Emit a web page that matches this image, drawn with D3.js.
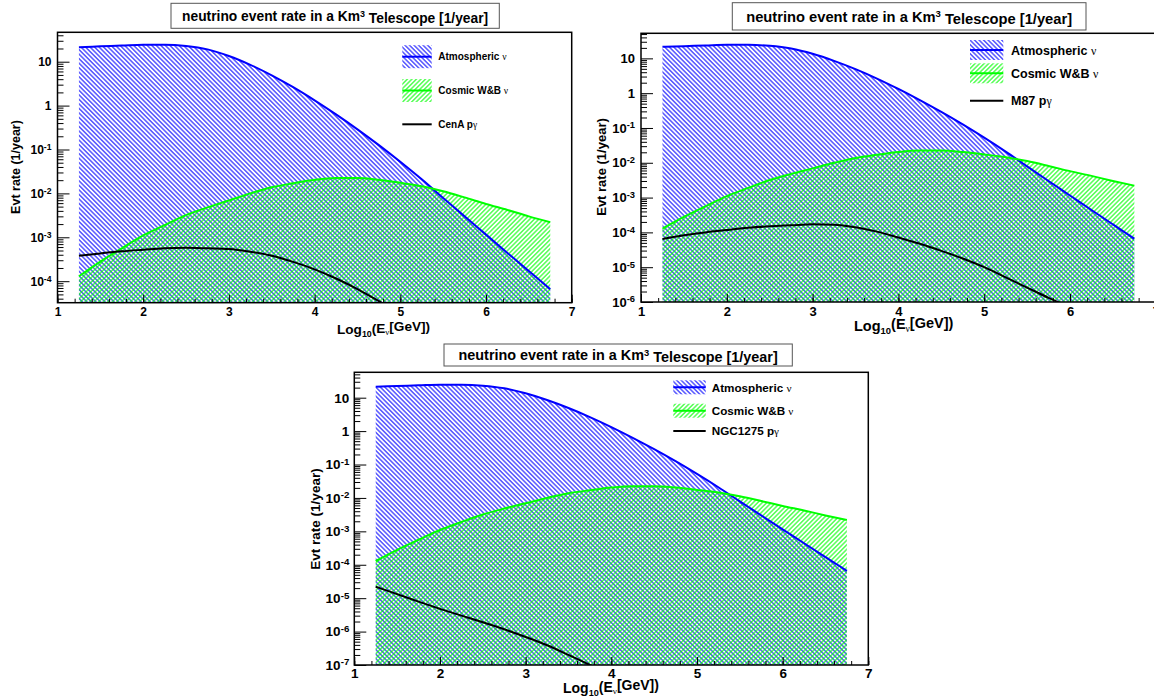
<!DOCTYPE html>
<html><head><meta charset="utf-8">
<script src="https://cdn.jsdelivr.net/npm/d3@7"></script>
<style>
html,body{margin:0;padding:0;background:#fff;}
svg{display:block;}
text{font-family:"Liberation Sans",Arial,Helvetica,sans-serif;font-weight:bold;fill:#000;}
.sym{font-family:"Liberation Serif","DejaVu Serif",serif;font-weight:normal;}
</style>
</head><body>
<svg id="chart" width="1154" height="699"></svg>
<script>
// ---------------- data ----------------
const energies = [1.25,1.5,1.75,2.0,2.25,2.5,2.75,3.0,3.25,3.5,3.75,4.0,4.25,4.5,4.75,5.0,5.25,5.5,5.75,6.0,6.25,6.5,6.75];
const atmospheric = [21.4,22.4,23.4,24.5,24.5,22.9,19.1,13.5,8.5,4.9,2.63,1.32,0.63,0.288,0.126,0.0525,0.0209,7.9e-3,3.0e-3,1.15e-3,4.4e-4,1.7e-4,6.6e-5];
const cosmicWB = [1.29e-4,2.8e-4,5.6e-4,1.1e-3,1.9e-3,3.2e-3,4.8e-3,6.9e-3,1.0e-2,1.38e-2,1.7e-2,2.04e-2,2.24e-2,2.24e-2,2.04e-2,1.74e-2,1.45e-2,1.12e-2,8.1e-3,5.75e-3,4.2e-3,3.0e-3,2.2e-3];
const cenA = [3.8e-4,4.3e-4,4.8e-4,5.2e-4,5.6e-4,5.75e-4,5.6e-4,5.4e-4,4.7e-4,3.8e-4,2.75e-4,1.86e-4,1.15e-4,6.6e-5,3.5e-5,1.8e-5,8.5e-6];
const m87 = [6.5e-5,8.3e-5,1.0e-4,1.17e-4,1.35e-4,1.5e-4,1.6e-4,1.7e-4,1.66e-4,1.4e-4,1.05e-4,7.1e-5,4.7e-5,2.95e-5,1.78e-5,1.0e-5,5.1e-6,2.6e-6,1.32e-6,7.1e-7,4.0e-7];
const ngc1275 = [2.2e-5,1.32e-5,7.9e-6,4.8e-6,3.0e-6,1.9e-6,1.17e-6,6.9e-7,3.9e-7,2.0e-7,1.0e-7,4.7e-8];
const xTickValues = [1,2,3,4,5,6,7];
const sourceNames = ["CenA","M87","NGC1275"];
const sourceSeries = [cenA, m87, ngc1275];
const yDecadesMin = [-4,-6,-7];
const yDecadesMax = 1;
const yRangeLog = [[-4.49,1.67],[-6,1.72],[-7,1.76]];

// ---------------- layout ----------------
const panels = [
 {x0:57.5,x1:571.7,y0:32.3,y1:302.7,tickFs:12,labGap:6,maj:12,min:6,xpad:4.8,
  tb:[171,3.3,499.3,28.3],tfs:13.8,tbase:21,
  yt:{x:15,y:167,fs:12.5}, xt:{x:337,y:334,fs:13.6},
  lg:{bx0:402.3,bx1:431.7,ys:[56.7,90.5,124.3],bh:23,tx:438.3,fs:10}},
 {x0:641,x1:1155.8,y0:33.3,y1:302,tickFs:13,labGap:6,maj:12,min:6,xpad:4.8,
  tb:[732.3,2.7,1086,30],tfs:14.7,tbase:21.6,
  yt:{x:601,y:167,fs:13}, xt:{x:854,y:331,fs:14.5},
  lg:{bx0:970,bx1:1003.3,ys:[50,73.3,100.7],bh:20,tx:1011,fs:12.5}},
 {x0:354.3,x1:868.3,y0:372.3,y1:665,tickFs:13.5,labGap:5,maj:12,min:6,xpad:3.4,
  tb:[444,344,792.3,366],tfs:14.4,tbase:360,
  yt:{x:315,y:519,fs:13.5}, xt:{x:563,y:693,fs:14},
  lg:{bx0:673.3,bx1:705.7,ys:[387.3,410.7,431],bh:14,tx:711.7,fs:11.7}}
];

const BLUE = "#0000ff", GREEN = "#00ff00";
const svg = d3.select("#chart");
const defs = svg.append("defs");
function hatch(id, color, angle){
  const p = defs.append("pattern").attr("id",id).attr("patternUnits","userSpaceOnUse")
    .attr("width",3.2).attr("height",10).attr("patternTransform",`rotate(${angle})`);
  p.append("line").attr("x1",1.6).attr("y1",-1).attr("x2",1.6).attr("y2",11)
    .attr("stroke",color).attr("stroke-width",1);
}
hatch("hBlue", BLUE, -45);
hatch("hGreen", GREEN, 45);

panels.forEach((P, i) => {
  const g = svg.append("g");
  const x = d3.scaleLinear().domain([1,7]).range([P.x0,P.x1]);
  const y = d3.scaleLog().domain([Math.pow(10,yRangeLog[i][0]), Math.pow(10,yRangeLog[i][1])]).range([P.y1,P.y0]);

  const clipId = "clip"+i;
  defs.append("clipPath").attr("id",clipId).append("rect")
    .attr("x",P.x0).attr("y",P.y0).attr("width",P.x1-P.x0).attr("height",P.y1-P.y0);
  const plot = g.append("g").attr("clip-path",`url(#${clipId})`);

  const atmData = energies.map((e,k)=>[e,atmospheric[k]]);
  const cosData = energies.map((e,k)=>[e,cosmicWB[k]]);
  const srcData = sourceSeries[i].map((v,k)=>[energies[k],v]);

  const area = d3.area().x(d=>x(d[0])).y0(P.y1).y1(d=>y(d[1])).curve(d3.curveMonotoneX);
  const line = d3.line().x(d=>x(d[0])).y(d=>y(d[1])).curve(d3.curveMonotoneX);

  plot.append("path").attr("d",area(atmData)).attr("fill","url(#hBlue)");
  plot.append("path").attr("d",area(cosData)).attr("fill","url(#hGreen)");
  plot.append("path").attr("d",line(atmData)).attr("fill","none").attr("stroke",BLUE).attr("stroke-width",2);
  plot.append("path").attr("d",line(cosData)).attr("fill","none").attr("stroke",GREEN).attr("stroke-width",2);
  plot.append("path").attr("d",line(srcData)).attr("fill","none").attr("stroke","#000").attr("stroke-width",2);

  // x axis ticks
  const xMinor = d3.range(10,71,2).map(v=>v/10);
  const gxm = g.append("g").attr("transform",`translate(0,${P.y1})`)
    .call(d3.axisBottom(x).tickValues(xMinor).tickSize(-4).tickFormat(""));
  const gx = g.append("g").attr("transform",`translate(0,${P.y1})`)
    .call(d3.axisBottom(x).tickValues(xTickValues).tickSize(-8).tickPadding(P.xpad).tickFormat(d3.format("d")));
  [gxm,gx].forEach(a=>{a.select(".domain").remove(); a.attr("font-family",null).attr("font-size",null);
    a.selectAll("line").attr("stroke","#000");});
  gx.selectAll("text").style("font-size",P.tickFs+"px");

  // y axis ticks
  const decades = d3.range(yDecadesMin[i], yDecadesMax+1);
  const dom = y.domain();
  const yMinor = [];
  for (let n=yDecadesMin[i]-1;n<=2;n++) for (let k=2;k<=9;k++){const v=k*Math.pow(10,n); if(v>=dom[0]&&v<=dom[1]) yMinor.push(v);}
  const gym = g.append("g").attr("transform",`translate(${P.x0},0)`)
    .call(d3.axisLeft(y).tickValues(yMinor).tickSize(-P.min).tickFormat(""));
  const gy = g.append("g").attr("transform",`translate(${P.x0},0)`)
    .call(d3.axisLeft(y).tickValues(decades.map(n=>Math.pow(10,n))).tickSize(-P.maj).tickFormat(""));
  [gym,gy].forEach(a=>{a.select(".domain").remove(); a.selectAll("line").attr("stroke","#000");});

  decades.forEach(n=>{
    const t = g.append("text").attr("x",P.x0-P.labGap).attr("y",y(Math.pow(10,n))).attr("dy","0.36em")
      .attr("text-anchor","end").style("font-size",P.tickFs+"px");
    if (n===0) t.text("1");
    else if (n===1) t.text("10");
    else { t.append("tspan").text("10");
      t.append("tspan").attr("dy","-0.45em").style("font-size",(P.tickFs*0.72)+"px").text(String(n)); }
  });

  // frame
  g.append("rect").attr("x",P.x0).attr("y",P.y0).attr("width",P.x1-P.x0).attr("height",P.y1-P.y0)
    .attr("fill","none").attr("stroke","#000").attr("stroke-width",1.5);

  // title box
  const [bx0,by0,bx1,by1] = P.tb;
  g.append("rect").attr("x",bx0).attr("y",by0).attr("width",bx1-bx0).attr("height",by1-by0)
    .attr("fill","#fff").attr("stroke","#555").attr("stroke-width",1);
  const tt = g.append("text").attr("x",(bx0+bx1)/2).attr("y",P.tbase).attr("text-anchor","middle")
    .style("font-size",P.tfs+"px");
  tt.append("tspan").text("neutrino event rate in a Km");
  tt.append("tspan").attr("dy","-0.45em").style("font-size",(P.tfs*0.65)+"px").text("3");
  tt.append("tspan").attr("dy","0.45em").text(" Telescope [1/year]");

  // y title
  g.append("text").attr("transform",`translate(${P.yt.x},${P.yt.y}) rotate(-90)`).attr("dy","0.36em")
    .attr("text-anchor","middle").style("font-size",P.yt.fs+"px").text("Evt rate (1/year)");

  // x title
  const xt = g.append("text").attr("x",P.xt.x).attr("y",P.xt.y).style("font-size",P.xt.fs+"px");
  xt.append("tspan").text("Log");
  xt.append("tspan").attr("dy","0.3em").style("font-size",(P.xt.fs*0.65)+"px").text("10");
  xt.append("tspan").attr("dy","-0.3em").text("(E");
  xt.append("tspan").attr("dy","0.3em").attr("class","sym").style("font-size",(P.xt.fs*0.65)+"px").text("ν");
  xt.append("tspan").attr("dy","-0.3em").text("[GeV])");

  // legend
  const L = P.lg;
  const items = [
    {fill:"url(#hBlue)", color:BLUE, label:"Atmospheric", sym:"ν"},
    {fill:"url(#hGreen)", color:GREEN, label:"Cosmic W&B", sym:"ν"},
    {fill:null, color:"#000", label:sourceNames[i]+" p", sym:"γ"}
  ];
  items.forEach((it,k)=>{
    const cy = L.ys[k];
    if (it.fill) g.append("rect").attr("x",L.bx0).attr("y",cy-L.bh/2).attr("width",L.bx1-L.bx0).attr("height",L.bh).attr("fill",it.fill);
    g.append("line").attr("x1",L.bx0).attr("x2",L.bx1).attr("y1",cy).attr("y2",cy).attr("stroke",it.color).attr("stroke-width",2);
    const t = g.append("text").attr("x",L.tx).attr("y",cy).attr("dy","0.36em").style("font-size",L.fs+"px");
    t.append("tspan").text(it.label + (k<2?" ":""));
    t.append("tspan").attr("class","sym").style("font-size",(L.fs*0.95)+"px").text(it.sym);
  });
});
</script>
</body></html>
